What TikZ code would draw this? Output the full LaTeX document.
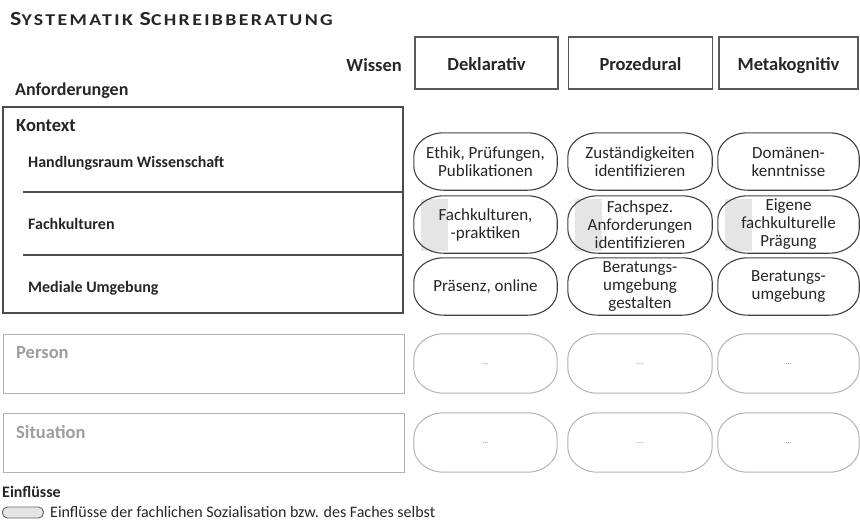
\documentclass[tikz,border=0pt]{standalone}
\usepackage{fontspec}
\setmainfont{Carlito}
% outline of a pill with elliptical corners around a named node
\newcommand\pillshape[4]{% node, style, x radius, y radius
  \draw[#2] ([xshift=#3]#1.north west) -- ([xshift=-#3]#1.north east)
    arc[start angle=90,end angle=0,x radius=#3,y radius=#4]
    -- ([yshift=#4]#1.south east)
    arc[start angle=0,end angle=-90,x radius=#3,y radius=#4]
    -- ([xshift=#3]#1.south west)
    arc[start angle=270,end angle=180,x radius=#3,y radius=#4]
    -- ([yshift=-#4]#1.north west)
    arc[start angle=180,end angle=90,x radius=#3,y radius=#4] -- cycle;}
% light band at the left end of a pill
\newcommand\pillband[1]{%
  \fill[black!10] ([xshift=7pt,yshift=-3pt]#1.north west) rectangle ([xshift=34pt,yshift=2pt]#1.south west);}
\begin{document}
\begin{tikzpicture}[x=1pt,y=-1pt,
  lbl/.style={inner sep=0pt,font=\fontsize{16}{19}\selectfont\bfseries,text=black!85},
  biglbl/.style={inner sep=0pt,font=\fontsize{18.5}{21}\selectfont\bfseries,text=black!85},
  head/.style={draw=black!65,line width=1.1pt,minimum width=#1,minimum height=52pt,inner sep=0pt,
    text height=14pt,text depth=0pt,font=\fontsize{18.5}{21}\selectfont\bfseries,text=black!85},
  pill/.style={minimum width=#1,minimum height=57pt,inner sep=0pt,align=center,
    font=\fontsize{17}{18}\selectfont,text=black!85},
  pilline/.style={draw=black!75,line width=1.1pt},
  ghost/.style={minimum width=#1,minimum height=59pt,inner sep=0pt,
    font=\fontsize{9}{10}\selectfont,text=black!40},
  ghostline/.style={draw=black!30,line width=1pt},
  greybox/.style={draw=black!30,line width=1pt},
  greylbl/.style={inner sep=0pt,font=\fontsize{18.5}{21}\selectfont\bfseries,text=black!38}
]
\useasboundingbox (0,0) rectangle (860,525);

% title in small capitals
\node[inner sep=0pt,anchor=base west,text=black!85] (title) at (10,25)
  {\scalebox{1.2}[1]{\bfseries\addfontfeature{LetterSpace=12}\fontsize{20}{20}\selectfont S\fontsize{16.5}{16.5}\selectfont YSTEMATIK
   \fontsize{20}{20}\selectfont S\fontsize{16.5}{16.5}\selectfont CHREIBBERATUNG}};

% knowledge axis
\node[biglbl,anchor=base east] (wissen) at (402,71) {Wissen};
\node[head=143pt] (dek) at (486.5,63) {Deklarativ};
\node[head=144pt] (proz) at (640.5,63) {Prozedural};
\node[head=139pt] (meta) at (788.5,63) {Metakognitiv};

% requirements axis
\node[biglbl,font=\fontsize{18}{21}\selectfont\bfseries,anchor=base west] (anf) at (15,95) {Anforderungen};

% context block
\draw[draw=black!70,line width=1.2pt] (3,107) rectangle (403,313);
\node[biglbl,anchor=base west] (kontext) at (16,131) {Kontext};
\coordinate (d1a) at (23,192); \coordinate (d1b) at (403,192);
\coordinate (d2a) at (23,255); \coordinate (d2b) at (403,255);
\draw[draw=black!70,line width=1.1pt] (d1a) -- (d1b);
\draw[draw=black!70,line width=1.1pt] (d2a) -- (d2b);
\node[lbl,anchor=base west] (hw) at (28,167) {Handlungsraum Wissenschaft};
\node[lbl,anchor=base west] (fk) at (28,229) {Fachkulturen};
\node[lbl,anchor=base west] (mu) at (28,292) {Mediale Umgebung};

% row 1
\node[pill=143pt] (a1) at (485.5,161.5) {Ethik, Prüfungen,\\Publikationen};
\node[pill=144pt] (b1) at (640,161.5) {Zuständigkeiten\\identifizieren};
\node[pill=141pt] (c1) at (788.5,161.5) {Domänen-\\kenntnisse};
% row 2
\node[pill=143pt] (a2) at (485.5,224.5) {};
\node[pill=144pt] (b2) at (640,224.5) {};
\node[pill=141pt] (c2) at (788.5,224.5) {};
\pillband{a2} \pillband{b2} \pillband{c2}
\node[pill=143pt] at (a2) {Fachkulturen,\\-praktiken};
\node[pill=144pt] at (b2) {Fachspez.\\Anforderungen\\identifizieren};
\node[pill=141pt] at (c2) {Eigene\\fachkulturelle\\Prägung};
% row 3
\node[pill=143pt] (a3) at (485.5,286.5) {Präsenz, online};
\node[pill=144pt] (b3) at (640,286.5) {Beratungs-\\umgebung\\gestalten};
\node[pill=141pt] (c3) at (788.5,286.5) {Beratungs-\\umgebung};
\foreach \n in {a1,b1,c1,a2,b2,c2,a3,b3,c3} {\pillshape{\n}{pilline}{30pt}{24pt}}

% person
\draw[greybox] (3,334) rectangle (404,393);
\node[greylbl,anchor=base west] (person) at (16,358) {Person};
\node[ghost=143pt] (a4) at (485.5,363.5) {\raisebox{-3pt}{...}};
\node[ghost=144pt] (b4) at (640,363.5) {\raisebox{-3pt}{...}};
\node[ghost=141pt] (c4) at (788.5,363.5) {\raisebox{-3pt}{...}};

% situation
\draw[greybox] (3,413) rectangle (404,472);
\node[greylbl,anchor=base west] (situation) at (16,438) {Situation};
\node[ghost=143pt] (a5) at (485.5,442.5) {\raisebox{-3pt}{...}};
\node[ghost=144pt] (b5) at (640,442.5) {\raisebox{-3pt}{...}};
\node[ghost=141pt] (c5) at (788.5,442.5) {\raisebox{-3pt}{...}};
\foreach \n in {a4,b4,c4,a5,b5,c5} {\pillshape{\n}{ghostline}{30pt}{25pt}}

% legend
\node[lbl,anchor=base west] (einfl) at (2,497) {Einflüsse};
\node[draw=black!60,fill=black!10,line width=0.9pt,rounded corners=5pt,minimum width=41pt,minimum height=11pt,
  inner sep=0pt] (leg) at (23,512.5) {};
\node[inner sep=0pt,anchor=base west,font=\fontsize{16}{19}\selectfont,text=black!85] (legtxt) at (50,517)
  {Einflüsse der fachlichen Sozialisation bzw. des Faches selbst};
\end{tikzpicture}
\end{document}
